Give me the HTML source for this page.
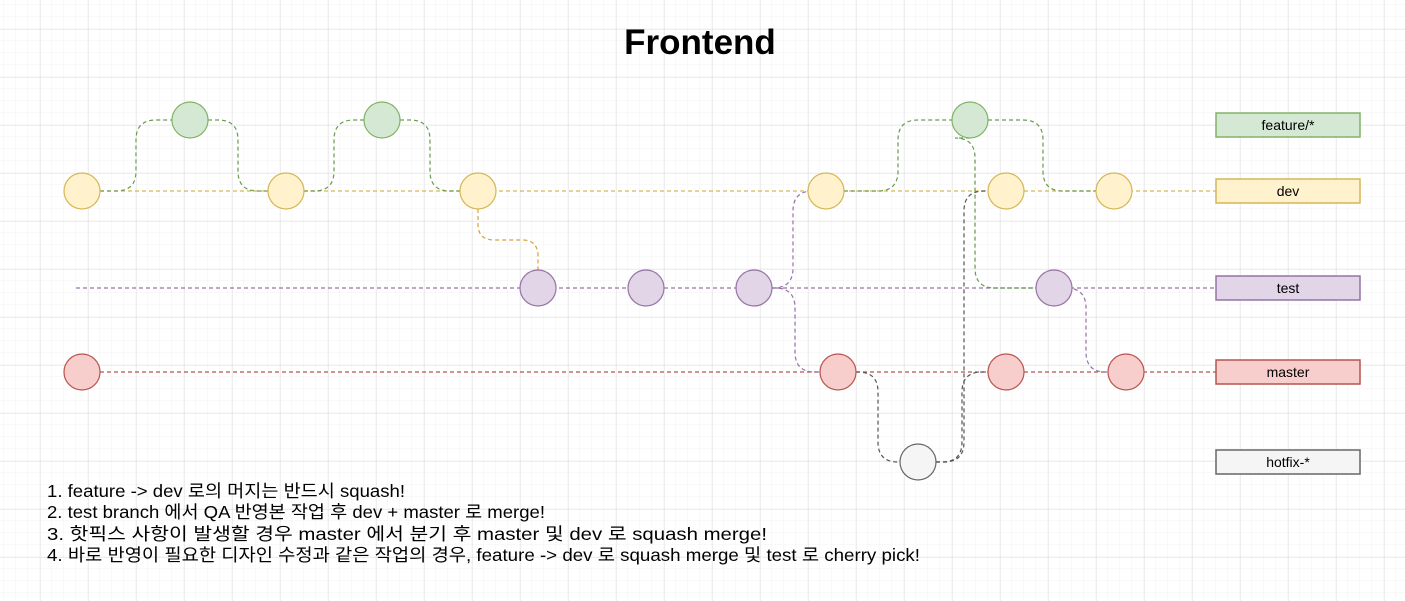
<!DOCTYPE html>
<html><head><meta charset="utf-8"><style>
html,body{margin:0;padding:0;background:#fff}
svg{display:block}
</style></head><body>
<svg width="1405" height="601" viewBox="0 0 1405 601" xmlns="http://www.w3.org/2000/svg">
<defs>
<pattern id="minor" width="12" height="12" patternUnits="userSpaceOnUse" x="4" y="5">
<path d="M12 0V12M0 12H12" fill="none" stroke="#f3f3f3" stroke-width="1"/>
</pattern>
<pattern id="major" width="48" height="48" patternUnits="userSpaceOnUse" x="40" y="29">
<path d="M0 0V48M0 0H48" fill="none" stroke="#dcdcdc" stroke-width="1"/>
</pattern>
</defs>
<rect width="1405" height="601" fill="url(#minor)"/>
<rect width="1405" height="601" fill="url(#major)"/>
<text x="700" y="54" text-anchor="middle" font-family="Liberation Sans, sans-serif" font-weight="bold" font-size="35" fill="#000">Frontend</text>
<g id="lanes"></g>
<g id="links"></g>
<g id="nodes"></g>
<g id="labels"></g>
<g font-family="Liberation Sans, 'Noto Sans CJK KR', sans-serif" font-size="17.5" fill="#000">
<text x="47" y="497" textLength="358" lengthAdjust="spacingAndGlyphs">1. feature -&gt; dev 로의 머지는 반드시 squash!</text>
<text x="47" y="518" textLength="498" lengthAdjust="spacingAndGlyphs">2. test branch 에서 QA 반영본 작업 후 dev + master 로 merge!</text>
<text x="47" y="540" textLength="720" lengthAdjust="spacingAndGlyphs">3. 핫픽스 사항이 발생할 경우 master 에서 분기 후 master 및 dev 로 squash merge!</text>
<text x="47" y="561" textLength="873" lengthAdjust="spacingAndGlyphs">4. 바로 반영이 필요한 디자인 수정과 같은 작업의 경우, feature -&gt; dev 로 squash merge 및 test 로 cherry pick!</text>
</g>
</svg>
<script>
const branches=['feature/*','dev','test','master','hotfix-*'];
const branchY=[125,191,288,372,462];
const fills=['#d5e8d4','#fff2cc','#e1d5e7','#f8cecc','#f5f5f5'];
const strokes=['#82b366','#d6b656','#9673a6','#b85450','#666666'];
const featureX=[190,382,970];
const devX=[82,286,478,826,1006,1114];
const testX=[538,646,754,1054];
const masterX=[82,838,1006,1126];
const hotfixX=[918];
const NS='http://www.w3.org/2000/svg';
function mk(tag,attrs,parent){const e=document.createElementNS(NS,tag);for(const k in attrs)e.setAttribute(k,attrs[k]);parent.appendChild(e);return e;}
const lanes=document.getElementById('lanes'),links=document.getElementById('links'),nodes=document.getElementById('nodes'),labels=document.getElementById('labels');
const cy=[120,191,288,372,462];
[[1,100],[2,76],[3,100]].forEach(([b,x0])=>{
 const l=mk('line',{x1:x0,y1:cy[b],x2:1216,y2:cy[b],stroke:strokes[b],'stroke-width':1.2,'stroke-dasharray':'4 3'},lanes);
 
 
});
function elbow(x1,y1,x2,y2,xm,color,name){
 const r=Math.min(20,Math.abs(y2-y1)/2),sy=y2>y1?1:-1,s1=xm>x1?1:-1,s2=x2>xm?1:-1;
 const d=`M${x1} ${y1} L${xm-s1*r} ${y1} Q${xm} ${y1} ${xm} ${y1+sy*r} L${xm} ${y2-sy*r} Q${xm} ${y2} ${xm+s2*r} ${y2} L${x2} ${y2}`;
 const p=mk('path',{d:d,fill:'none',stroke:color,'stroke-width':1.2,'stroke-dasharray':'4 3'},links);
 
 
}
function velbow(x1,y1,x2,y2,ym,color,name){
 const r=16,sx=x2>x1?1:-1;
 const d=`M${x1} ${y1} L${x1} ${ym-r} Q${x1} ${ym} ${x1+sx*r} ${ym} L${x2-sx*r} ${ym} Q${x2} ${ym} ${x2} ${ym+r} L${x2} ${y2}`;
 const p=mk('path',{d:d,fill:'none',stroke:color,'stroke-width':1.2,'stroke-dasharray':'4 3'},links);
 
 
}
const G='#6a9a50',P='#9673a6',O='#d6a040',K='#555';
elbow(devX[0]+18,cy[1],featureX[0]-18,cy[0],136,G,'link-dev1-feature1');
elbow(featureX[0]+18,cy[0],devX[1]-18,cy[1],238,G,'link-feature1-dev2');
elbow(devX[1]+18,cy[1],featureX[1]-18,cy[0],334,G,'link-dev2-feature2');
elbow(featureX[1]+18,cy[0],devX[2]-18,cy[1],430,G,'link-feature2-dev3');
velbow(devX[2],cy[1]+18,testX[0],cy[2]-18,240,O,'link-dev3-test1');
elbow(testX[2]+18,cy[2],devX[3]-18,cy[1],793,P,'link-test3-dev4');
elbow(testX[2]+18,cy[2],masterX[1]-18,cy[3],795,P,'link-test3-master2');
elbow(devX[3]+18,cy[1],featureX[2]-18,cy[0],898,G,'link-dev4-feature3');
elbow(featureX[2]+18,cy[0],devX[5]-18,cy[1],1043,G,'link-feature3-dev6');
elbow(featureX[2],cy[0]+18,testX[3]-18,cy[2],975,G,'link-feature3-test4');
elbow(masterX[1]+18,cy[3],hotfixX[0]-18,cy[4],878,K,'link-master2-hotfix');
elbow(hotfixX[0]+18,cy[4],devX[4]-18,cy[1],964,K,'link-hotfix-dev5');
elbow(hotfixX[0]+18,cy[4],masterX[2]-18,cy[3],962,K,'link-hotfix-master3');
elbow(testX[3]+18,cy[2],masterX[3]-18,cy[3],1086,P,'link-test4-master4');
[featureX,devX,testX,masterX,hotfixX].forEach((xs,b)=>{
 xs.forEach((x,i)=>{
  const c=mk('circle',{cx:x,cy:cy[b],r:18,fill:fills[b],stroke:strokes[b],'stroke-width':1.2},nodes);
  
  
 });
});
branches.forEach((b,i)=>{
 const y=branchY[i];
 const g=mk('g',{},labels);
 
 
 mk('rect',{x:1216,y:y-12,width:144,height:24,fill:fills[i],stroke:strokes[i],'stroke-width':1.5},g);
 const t=mk('text',{x:1288,y:y+5,'text-anchor':'middle','font-family':'Liberation Sans, sans-serif','font-size':14,fill:'#000'},g);
 t.textContent=b;
});
</script>
</body></html>
